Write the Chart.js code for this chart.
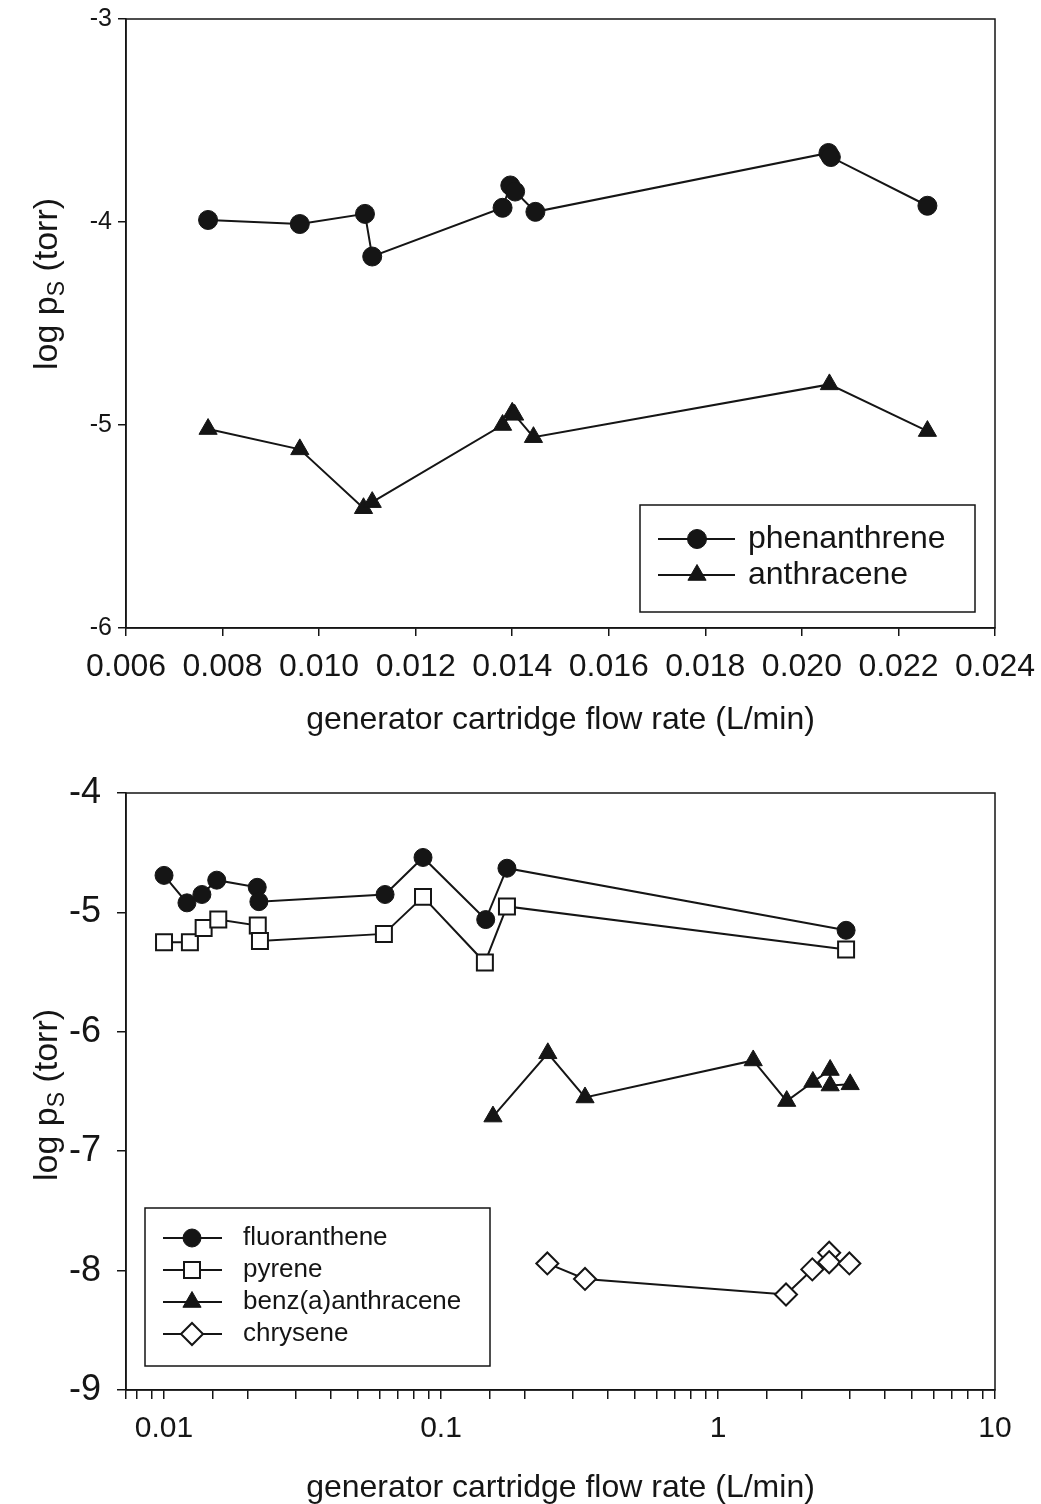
<!DOCTYPE html>
<html>
<head>
<meta charset="utf-8">
<script src="https://cdn.jsdelivr.net/npm/chart.js@4.4.1/dist/chart.umd.min.js"></script>
<style>
  html, body { margin: 0; padding: 0; background: #fff; }
  #wrap { position: relative; width: 1041px; height: 1504px; }
  .panel { position: absolute; left: 0; width: 1041px; }
  #upper { top: 0; height: 750px; }
  #lower { top: 750px; height: 754px; }
</style>
</head>
<body>
<div id="wrap">
  <div class="panel" id="upper"><canvas id="chartUpper"></canvas></div>
  <div class="panel" id="lower"><canvas id="chartLower"></canvas></div>
</div>
<script>
// upper panel: phenanthrene / anthracene, linear flow axis
const phenFlow = [0.0077, 0.0096, 0.01095, 0.0111, 0.0138, 0.01396, 0.01406, 0.01448, 0.02055, 0.0206, 0.0226];
const phenLogP = [-3.99, -4.01, -3.96, -4.17, -3.93, -3.82, -3.85, -3.95, -3.66, -3.68, -3.92];
const anthFlow = [0.0077, 0.0096, 0.01092, 0.0111, 0.0138, 0.0140, 0.01405, 0.01444, 0.02057, 0.0226];
const anthLogP = [-5.02, -5.12, -5.41, -5.38, -5.00, -4.94, -4.95, -5.06, -4.80, -5.03];

// lower panel: four PAHs, log flow axis
const fluoFlow = [0.0100, 0.0121, 0.0137, 0.0155, 0.0217, 0.0220, 0.0628, 0.0861, 0.145, 0.173, 2.90];
const fluoLogP = [-4.69, -4.92, -4.85, -4.73, -4.79, -4.91, -4.85, -4.54, -5.06, -4.63, -5.15];
const pyreFlow = [0.0100, 0.0124, 0.0139, 0.0157, 0.0218, 0.0222, 0.0622, 0.0861, 0.144, 0.173, 2.90];
const pyreLogP = [-5.25, -5.25, -5.13, -5.06, -5.11, -5.24, -5.18, -4.87, -5.42, -4.95, -5.31];
const bzaFlow = [0.154, 0.243, 0.331, 1.34, 1.77, 2.20, 2.54, 2.54, 3.00];
const bzaLogP = [-6.71, -6.18, -6.55, -6.24, -6.58, -6.42, -6.32, -6.45, -6.44];
const chryFlow = [0.242, 0.331, 1.76, 2.19, 2.52, 2.52, 2.98];
const chryLogP = [-7.94, -8.07, -8.20, -7.99, -7.85, -7.93, -7.94];

const upperTicksX = [0.006, 0.024, 0.002];   // min, max, step
const upperTicksY = [-6, -3, 1];
const lowerRangeX = [0.00729, 10];
const lowerTicksY = [-9, -4, 1];

const xTitle = 'generator cartridge flow rate (L/min)';
const INK = '#151515';
const SANS = '"Liberation Sans", Arial, sans-serif';

const pts = (xs, ys) => xs.map((x, i) => ({ x: x, y: ys[i] }));

function series(label, xs, ys, style, radius, open) {
  return {
    label: label,
    data: pts(xs, ys),
    showLine: true,
    borderColor: INK,
    borderWidth: 2,
    pointStyle: style,
    pointRadius: radius,
    pointHoverRadius: radius,
    pointBackgroundColor: open ? '#fff' : INK,
    pointBorderColor: INK,
    pointBorderWidth: open ? 2 : 1
  };
}

// box round the plot area, legend inside it, y title with subscript, x title
const decorations = {
  id: 'decorations',
  afterDraw(chart, args, o) {
    const ctx = chart.ctx;
    const a = chart.chartArea;
    ctx.save();
    ctx.strokeStyle = INK;
    ctx.lineWidth = 1.5;
    ctx.strokeRect(a.left, a.top, a.right - a.left, a.bottom - a.top);

    // legend
    const L = o.legend;
    ctx.strokeRect(L.x, L.y, L.w, L.h);
    ctx.font = L.font;
    ctx.textBaseline = 'middle';
    chart.data.datasets.forEach((ds, i) => {
      const y = L.y + L.first + i * L.gap;
      ctx.beginPath();
      ctx.moveTo(L.x + L.lineFrom, y);
      ctx.lineTo(L.x + L.lineTo, y);
      ctx.strokeStyle = ds.borderColor;
      ctx.lineWidth = ds.borderWidth;
      ctx.stroke();
      ctx.fillStyle = ds.pointBackgroundColor;
      ctx.strokeStyle = ds.pointBorderColor;
      ctx.lineWidth = ds.pointBorderWidth;
      Chart.helpers.drawPoint(ctx, {
        pointStyle: ds.pointStyle, radius: ds.pointRadius,
        borderWidth: ds.pointBorderWidth, rotation: 0
      }, L.x + L.marker, y);
      ctx.fillStyle = INK;
      ctx.fillText(ds.label, L.x + L.text, y);
    });

    // x title
    ctx.font = o.xTitle.font;
    ctx.textAlign = 'center';
    ctx.textBaseline = 'middle';
    ctx.fillStyle = INK;
    ctx.fillText(xTitle, (a.left + a.right) / 2, o.xTitle.y);

    // y title: log p_S (torr)
    const t = o.yTitle;
    ctx.translate(t.x, t.y);
    ctx.rotate(-Math.PI / 2);
    ctx.textAlign = 'left';
    ctx.textBaseline = 'alphabetic';
    const big = t.size + 'px ' + t.family;
    const small = Math.round(t.size * 0.68) + 'px ' + t.family;
    ctx.font = big;
    const w1 = ctx.measureText('log p').width;
    const w3 = ctx.measureText(' (torr)').width;
    ctx.font = small;
    const w2 = ctx.measureText('S').width;
    let x = -(w1 + w2 + w3) / 2;
    const base = t.size * 0.36;
    ctx.font = big;
    ctx.fillText('log p', x, base);
    x += w1;
    ctx.font = small;
    ctx.fillText('S', x, base + t.size * 0.2);
    x += w2;
    ctx.font = big;
    ctx.fillText(' (torr)', x, base);
    ctx.restore();
  }
};

function axisBase(font, tickLen, pad) {
  return {
    border: { display: true, color: INK, width: 1.5 },
    grid: { display: true, drawOnChartArea: false, drawTicks: true, tickLength: tickLen, color: INK, tickColor: INK, lineWidth: 1.5 },
    ticks: { color: INK, font: font, padding: pad, maxRotation: 0 }
  };
}

// fixed axis box sizes; edge labels may hang past the plot area
const fixHeight = h => s => { s.height = h; s.paddingLeft = 0; s.paddingRight = 0; };
const fixWidth = w => s => { s.width = w; s.paddingTop = 0; s.paddingBottom = 0; };

// upper chart
const upX = axisBase({ family: SANS, size: 32 }, 8, 12);
upX.type = 'linear';
upX.min = upperTicksX[0];
upX.max = upperTicksX[1];
upX.ticks.stepSize = upperTicksX[2];
upX.ticks.callback = v => v.toFixed(3);
upX.afterFit = fixHeight(122);

const upY = axisBase({ family: SANS, size: 25 }, 8, 6);
upY.min = upperTicksY[0];
upY.max = upperTicksY[1];
upY.ticks.stepSize = upperTicksY[2];
upY.afterFit = fixWidth(126);

new Chart(document.getElementById('chartUpper'), {
  type: 'scatter',
  data: {
    datasets: [
      series('phenanthrene', phenFlow, phenLogP, 'circle', 9.5, false),
      series('anthracene', anthFlow, anthLogP, 'triangle', 10.5, false)
    ]
  },
  options: {
    responsive: true,
    maintainAspectRatio: false,
    animation: false,
    layout: { padding: { top: 19, right: 46, left: 0, bottom: 0 } },
    scales: { x: upX, y: upY },
    plugins: {
      legend: { display: false },
      tooltip: { enabled: false },
      decorations: {
        legend: { x: 640, y: 505, w: 335, h: 107, first: 34, gap: 36, lineFrom: 18, lineTo: 95, marker: 57, text: 108, font: '32px ' + SANS },
        xTitle: { y: 720, font: '32px ' + SANS },
        yTitle: { x: 45, y: 284, size: 34, family: SANS }
      }
    }
  },
  plugins: [decorations]
});

// lower chart
const isDecade = v => Math.abs(Math.log10(v) - Math.round(Math.log10(v))) < 1e-6;

const loX = axisBase({ family: SANS, size: 30 }, 9, 12);
loX.type = 'logarithmic';
loX.min = lowerRangeX[0];
loX.max = lowerRangeX[1];
loX.ticks.autoSkip = false;
loX.ticks.callback = v => (isDecade(v) && v > lowerRangeX[0] * 1.01) ? String(+v.toPrecision(1)) : '';
loX.afterFit = fixHeight(114);

const loY = axisBase({ family: SANS, size: 36 }, 9, 16);
loY.min = lowerTicksY[0];
loY.max = lowerTicksY[1];
loY.ticks.stepSize = lowerTicksY[2];
loY.afterFit = fixWidth(126);

new Chart(document.getElementById('chartLower'), {
  type: 'scatter',
  data: {
    datasets: [
      series('fluoranthene', fluoFlow, fluoLogP, 'circle', 9, false),
      series('pyrene', pyreFlow, pyreLogP, 'rect', 11.3, true),
      series('benz(a)anthracene', bzaFlow, bzaLogP, 'triangle', 10.5, false),
      series('chrysene', chryFlow, chryLogP, 'rectRot', 11, true)
    ]
  },
  options: {
    responsive: true,
    maintainAspectRatio: false,
    animation: false,
    layout: { padding: { top: 43, right: 46, left: 0, bottom: 0 } },
    scales: { x: loX, y: loY },
    plugins: {
      legend: { display: false },
      tooltip: { enabled: false },
      decorations: {
        legend: { x: 145, y: 458, w: 345, h: 158, first: 30, gap: 32, lineFrom: 18, lineTo: 77, marker: 47, text: 98, font: '26px ' + SANS },
        xTitle: { y: 738, font: '32px ' + SANS },
        yTitle: { x: 45, y: 345, size: 34, family: SANS }
      }
    }
  },
  plugins: [decorations]
});
</script>
</body>
</html>
